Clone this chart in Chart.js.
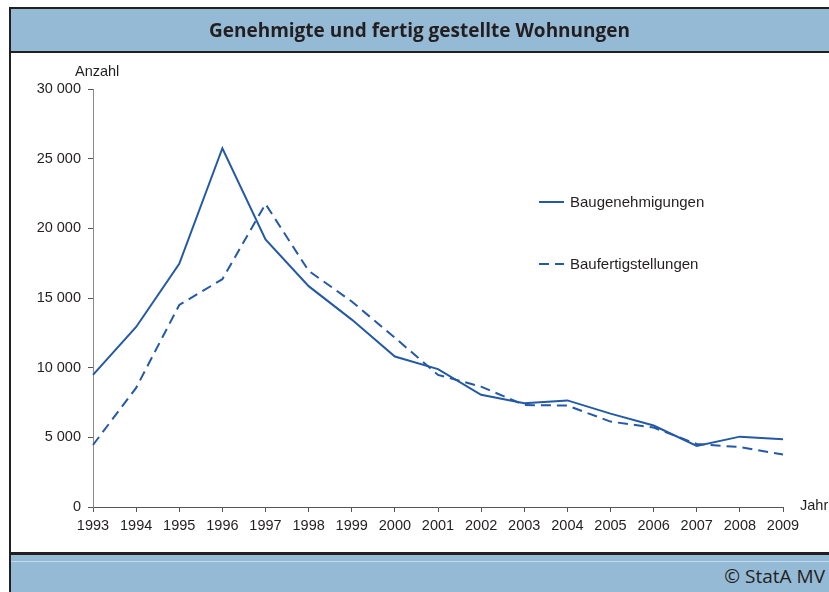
<!DOCTYPE html>
<html>
<head>
<meta charset="utf-8">
<script src="https://cdn.jsdelivr.net/npm/chart.js@4.4.1/dist/chart.umd.min.js"></script>
<style>
  html, body { margin: 0; padding: 0; background: #fff; }
  #wrap { position: relative; width: 829px; height: 592px; overflow: hidden; font-family: "Liberation Sans", Arial, sans-serif; }
  #chart { position: absolute; left: 0; top: 0; }
  .band { position: absolute; background: #95bad6; }
  .dark { position: absolute; background: #231f20; }
  #title { position: absolute; left: 10px; right: 0; top: 9px; height: 42px; line-height: 42px; text-align: center;
           font-family: "Open Sans", sans-serif; font-weight: bold; font-size: 19px; color: #231f20; letter-spacing: 0px; }
  #footer { position: absolute; right: 4px; top: 562px; height: 28px; line-height: 28px; font-family: "Open Sans", sans-serif;
            font-size: 19px; color: #231f20; }
  .axt { position: absolute; font-size: 14.5px; color: #231f20; }
</style>
</head>
<body>
<div id="wrap">
  <canvas id="chart" width="829" height="592"></canvas>
  <div class="band" style="left:11px; top:9px; width:818px; height:42px;"></div>
  <div class="dark" style="left:9px; top:7px; width:820px; height:2px;"></div>
  <div class="dark" style="left:9px; top:51px; width:820px; height:2px;"></div>
  <div class="dark" style="left:9px; top:7px; width:2px; height:585px;"></div>
  <div class="dark" style="left:9px; top:552px; width:820px; height:3px;"></div>
  <div class="band" style="left:11px; top:555px; width:818px; height:37px;"></div>
  <div style="position:absolute; left:11px; top:561px; width:818px; height:1px; background:#c3dbec;"></div>
  <div id="title">Genehmigte und fertig gestellte Wohnungen</div>
  <div id="footer">© StatA MV</div>
  <div class="axt" style="left:75px; top:63px;">Anzahl</div>
  <div class="axt" style="left:800px; top:497px;">Jahr</div>
</div>
<script>
const years = ["1993","1994","1995","1996","1997","1998","1999","2000","2001","2002","2003","2004","2005","2006","2007","2008","2009"];
const baugenehmigungen = [9480, 12920, 17450, 25750, 19200, 15850, 13450, 10800, 9900, 8050, 7450, 7650, 6700, 5850, 4380, 5050, 4870];
const baufertigstellungen = [4450, 8550, 14500, 16350, 21750, 16950, 14750, 12150, 9480, 8640, 7320, 7280, 6130, 5700, 4520, 4300, 3770];
const seriesNames = ["Baugenehmigungen", "Baufertigstellungen"];
const yTicks = [0, 5000, 10000, 15000, 20000, 25000, 30000];

const lineColor = "#2359a5";
const tickFont = { family: "'Liberation Sans', Arial, sans-serif", size: 14.5 };

const legendPlugin = {
  id: "customLegend",
  afterDraw(chart) {
    const ctx = chart.ctx;
    const items = [
      { y: 202, ds: chart.data.datasets[0] },
      { y: 264, ds: chart.data.datasets[1] }
    ];
    ctx.save();
    items.forEach(it => {
      ctx.strokeStyle = it.ds.borderColor;
      ctx.lineWidth = it.ds.borderWidth;
      ctx.setLineDash(it.ds.borderDash || []);
      ctx.beginPath();
      ctx.moveTo(539, it.y);
      ctx.lineTo(564, it.y);
      ctx.stroke();
      ctx.setLineDash([]);
      ctx.fillStyle = "#231f20";
      ctx.font = "15px 'Liberation Sans', Arial, sans-serif";
      ctx.textBaseline = "middle";
      ctx.fillText(it.ds.label, 570, it.y + 1);
    });
    ctx.restore();
  }
};

new Chart(document.getElementById("chart"), {
  type: "line",
  data: {
    labels: years,
    datasets: [
      { label: seriesNames[0], data: baugenehmigungen, borderColor: lineColor, borderWidth: 2, pointRadius: 0, tension: 0, fill: false },
      { label: seriesNames[1], data: baufertigstellungen, borderColor: lineColor, borderWidth: 2, borderDash: [10, 6], pointRadius: 0, tension: 0, fill: false }
    ]
  },
  options: {
    responsive: false,
    animation: false,
    layout: { padding: { left: 0, right: 46, top: 89, bottom: 0 } },
    plugins: { legend: { display: false }, tooltip: { enabled: false }, title: { display: false } },
    scales: {
      x: {
        offset: false,
        grid: { drawOnChartArea: false, drawTicks: true, tickLength: 5, color: "#555" },
        border: { color: "#555", width: 1 },
        ticks: { color: "#231f20", font: tickFont, padding: 5, maxRotation: 0, autoSkip: false },
        afterFit(scale) { scale.height = 85; }
      },
      y: {
        min: 0, max: 30000,
        afterBuildTicks(scale) { scale.ticks = yTicks.map(v => ({ value: v })); },
        grid: { drawOnChartArea: false, drawTicks: true, tickLength: 5, color: "#555" },
        border: { color: "#8a8a8a", width: 1 },
        ticks: {
          color: "#231f20", font: tickFont, padding: 7,
          callback: v => v === 0 ? "0" : String(v).replace(/\B(?=(\d{3})+(?!\d))/g, " ")
        },
        afterFit(scale) { scale.width = 93; }
      }
    }
  },
  plugins: [legendPlugin]
});
</script>
</body>
</html>
